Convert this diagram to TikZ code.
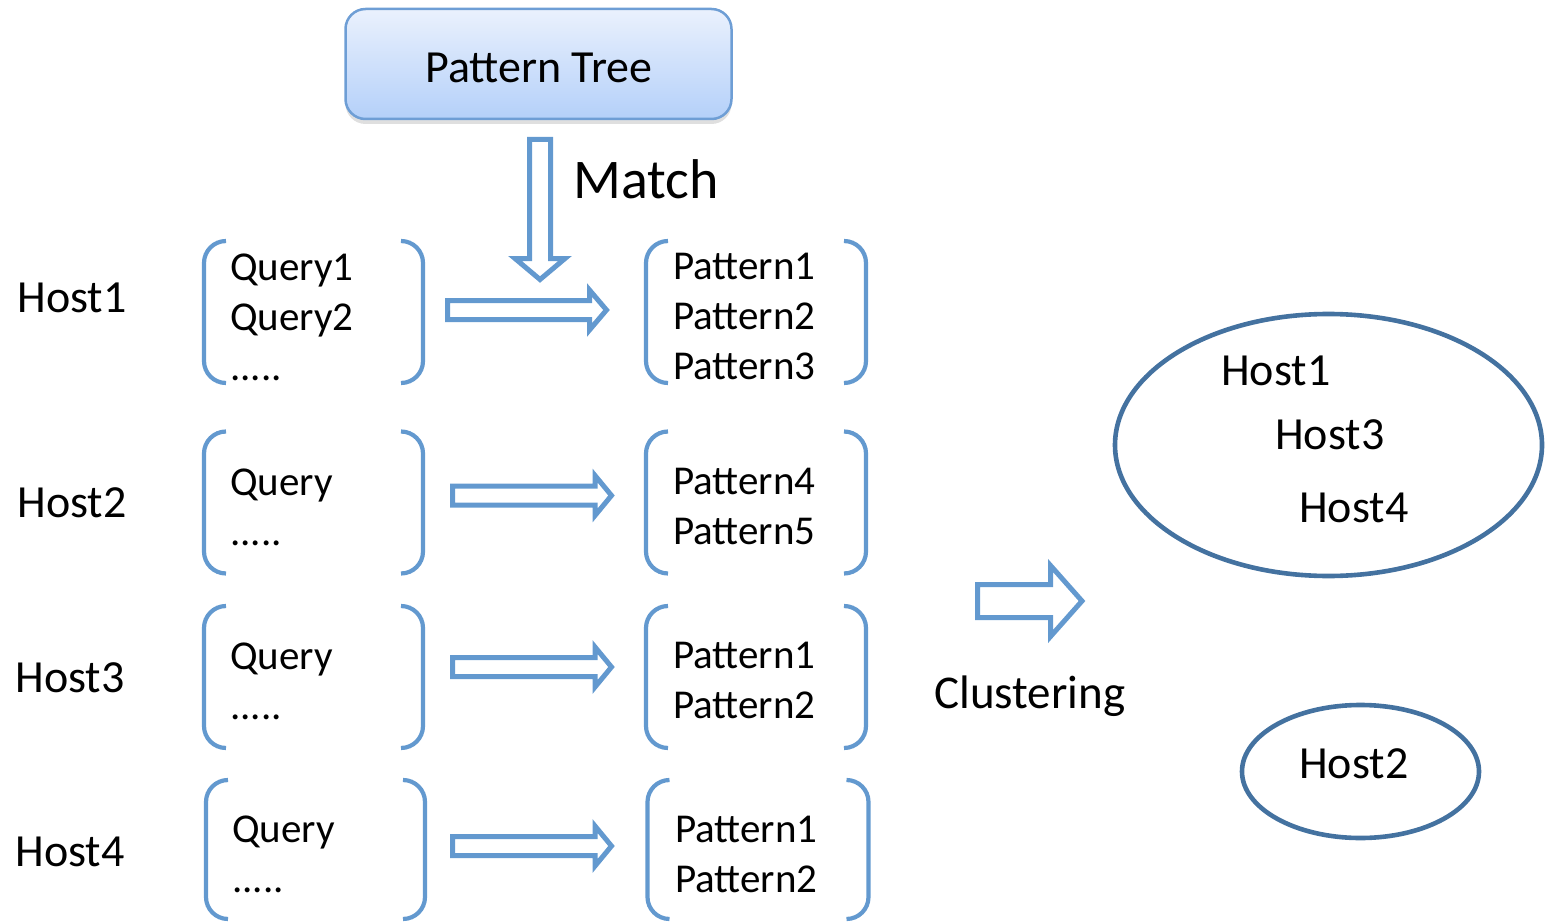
\documentclass[tikz,border=0pt]{standalone}
\usepackage{fontspec}
\setmainfont{Carlito}
\usetikzlibrary{positioning,shadows,calc}
\definecolor{arrblue}{RGB}{99,153,207}
\definecolor{ellblue}{RGB}{68,114,160}
\definecolor{boxline}{RGB}{110,158,213}
\definecolor{boxtop}{RGB}{234,241,253}
\definecolor{boxbot}{RGB}{180,208,249}

% pair of round brackets around a group node
\newcommand{\bracepair}[1]{%
  \draw[brk] ([xshift=22pt]#1.north west) -- (#1.north west)
    -- (#1.south west) -- ([xshift=22pt]#1.south west);
  \draw[brk] ([xshift=-22pt]#1.north east) -- (#1.north east)
    -- (#1.south east) -- ([xshift=-22pt]#1.south east);}
% hollow block arrow: start x, tip x, y, shaft half, head base x, head half
\newcommand{\rblock}[6]{%
  \draw[blk] (#1,{#3-#4}) -- (#5,{#3-#4}) -- (#5,{#3-#6}) -- (#2,#3)
    -- (#5,{#3+#6}) -- (#5,{#3+#4}) -- (#1,{#3+#4}) -- cycle;}

\begin{document}
\begin{tikzpicture}[x=1pt,y=-1pt,
    big/.style={font=\fontsize{46}{52}\selectfont,inner sep=0pt},
    small/.style={font=\fontsize{41}{50}\selectfont,inner sep=0pt,anchor=base west},
    grp/.style={inner sep=0pt,outer sep=0pt,minimum width=#1,minimum height=142},
    brk/.style={arrblue,line width=4.2pt,rounded corners=22pt},
    blk/.style={arrblue,line width=5pt,line join=miter},
    ell/.style={ellblue,line width=4.6pt}]
  \useasboundingbox (0,0) rectangle (1545,923);

  % pattern tree
  \node[draw=boxline,line width=2.5pt,rounded corners=20pt,
        top color=boxtop,bottom color=boxbot,
        drop shadow={shadow xshift=0pt,shadow yshift=-5pt,opacity=0.25},
        minimum width=386,minimum height=110,inner sep=0pt] (tree) at (538.5,64) {};
  \node[big,anchor=base] (treetxt) at (539,83) {Pattern Tree};
  \draw[blk] (529.5,139.5) -- (550.5,139.5) -- (550.5,258.5) -- (565,258.5)
    -- (540,279.5) -- (515,258.5) -- (529.5,258.5) -- cycle;
  \node[big,anchor=base west,font=\fontsize{56}{60}\selectfont] (match) at (573,198) {Match};

  % hosts
  \node[big,anchor=base] (h1) at (72,312) {Host1};
  \node[big,anchor=base] (h2) at (72,517) {Host2};
  \node[big,anchor=base] (h3) at (70,692) {Host3};
  \node[big,anchor=base] (h4) at (70,866) {Host4};

  % query groups
  \node[grp=219] (qg1) at (313.5,312) {};
  \node[grp=219] (qg2) at (313.5,502.5) {};
  \node[grp=219] (qg3) at (313.5,677) {};
  \node[grp=219,minimum height=139] (qg4) at (315.5,849.5) {};
  \foreach \g in {qg1,qg2,qg3,qg4} {\bracepair{\g}}
  \node[small] (q1a) at (230,280) {Query1};
  \node[small] (q1b) at (230,330) {Query2};
  \node[small] (q1c) at (230,380) {.....};
  \node[small] (q2a) at (230,495) {Query};
  \node[small] (q2b) at (230,545) {.....};
  \node[small] (q3a) at (230,669) {Query};
  \node[small] (q3b) at (230,719) {.....};
  \node[small] (q4a) at (232,842) {Query};
  \node[small] (q4b) at (232,892) {.....};

  % pattern groups
  \node[grp=220] (pg1) at (756,312) {};
  \node[grp=220] (pg2) at (756,502.5) {};
  \node[grp=220] (pg3) at (756,677) {};
  \node[grp=221,minimum height=139] (pg4) at (758,849.5) {};
  \foreach \g in {pg1,pg2,pg3,pg4} {\bracepair{\g}}
  \node[small] (p1a) at (673,279) {Pattern1};
  \node[small] (p1b) at (673,329) {Pattern2};
  \node[small] (p1c) at (673,379) {Pattern3};
  \node[small] (p2a) at (673,494) {Pattern4};
  \node[small] (p2b) at (673,544) {Pattern5};
  \node[small] (p3a) at (673,668) {Pattern1};
  \node[small] (p3b) at (673,718) {Pattern2};
  \node[small] (p4a) at (675,842) {Pattern1};
  \node[small] (p4b) at (675,892) {Pattern2};

  % arrows between groups
  \rblock{447.5}{606.5}{310}{9.5}{589.5}{20}
  \rblock{452.5}{611.5}{495.5}{9.5}{595}{20}
  \rblock{452.5}{611.5}{667}{9.5}{595}{20}
  \rblock{452.5}{611.5}{846}{9.5}{595}{20}

  % clustering
  \rblock{977.5}{1082}{601}{16.5}{1050.5}{35.5}
  \node[big,anchor=base west,font=\fontsize{47}{52}\selectfont] (clus) at (934,708) {Clustering};

  \draw[ell] (1328.5,445) ellipse [x radius=213.5,y radius=131];
  \node[big,anchor=base west] (c1) at (1221,385) {Host1};
  \node[big,anchor=base west] (c3) at (1275,449) {Host3};
  \node[big,anchor=base west] (c4) at (1299,522) {Host4};
  \draw[ell] (1360.5,771.5) ellipse [x radius=118.5,y radius=66.5];
  \node[big,anchor=base west] (c2) at (1299,778) {Host2};
\end{tikzpicture}
\end{document}
